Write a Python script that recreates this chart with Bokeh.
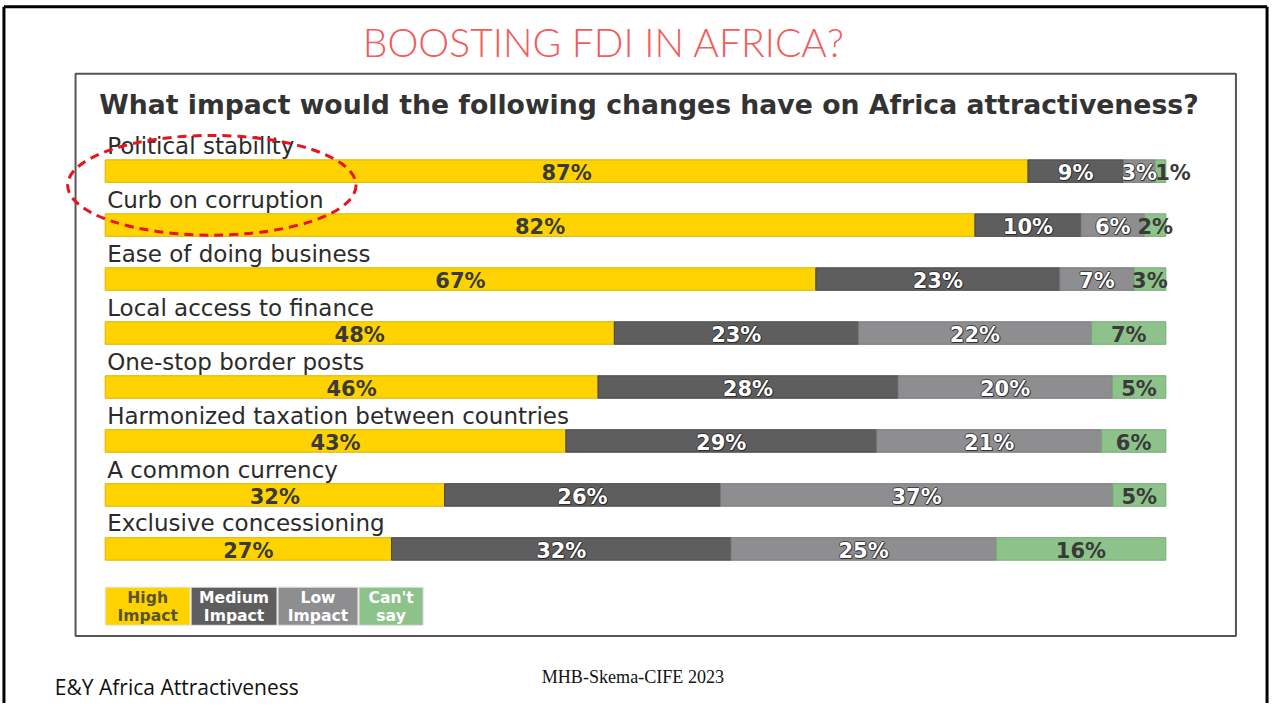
from bokeh.plotting import figure
from bokeh.models import Range1d
from bokeh.core.properties import value
from bokeh.embed import file_html
from bokeh.resources import INLINE

# ---------------- data ----------------
categories = [
    "Political stability",
    "Curb on corruption",
    "Ease of doing business",
    "Local access to finance",
    "One-stop border posts",
    "Harmonized taxation between countries",
    "A common currency",
    "Exclusive concessioning",
]
high_impact = [87, 82, 67, 48, 46, 43, 32, 27]
medium_impact = [9, 10, 23, 23, 28, 29, 26, 32]
low_impact = [3, 6, 7, 22, 20, 21, 37, 25]
cant_say = [1, 2, 3, 7, 5, 6, 5, 16]
series_names = ["High Impact", "Medium Impact", "Low Impact", "Can't say"]
legend_line1 = ["High", "Medium", "Low", "Can't"]
legend_line2 = ["Impact", "Impact", "Impact", "say"]
slide_title = "BOOSTING FDI IN AFRICA?"
chart_title = "What impact would the following changes have on Africa attractiveness?"
footer_left = "E&Y Africa Attractiveness"
footer_center = "MHB-Skema-CIFE 2023"

# ---------------- style / layout ----------------
colors = ["#FFD300", "#5E5E5E", "#8E8E91", "#8DC38B"]
edge_colors = ["#D9B400", "#474747", "#77777a", "#74a972"]
label_colors = ["#3a3a3a", "white", "white", "#3a3a3a"]
FONT = value("DejaVu Sans")

W, H = 1271, 703
REF_W, REF_H = 1287, 719           # layout designed in reference pixels
SX, SY = W / REF_W, H / REF_H
X0, PXPCT = 106.0, 10.74            # ref px of 0 %, ref px per percent
Y0, PXROW = 174.5, 55.2             # ref px of row 0 centre, ref px per row


def fx(px):
    return (px - X0) / PXPCT


def fy(py):
    return (py - Y0) / PXROW


def fs(px):
    return f"{px * SY:.1f}px"


p = figure(
    width=W, height=H,
    x_range=Range1d(fx(0), fx(REF_W)),
    y_range=Range1d(fy(REF_H), fy(0)),
    x_axis_type=None, y_axis_type=None,
    output_backend="svg", toolbar_location=None,
    min_border=0,
)
p.grid.visible = False
p.outline_line_color = None
p.background_fill_color = "white"
p.border_fill_color = "white"

# slide frame (top, left, right)
p.segment(x0=[fx(3.5), fx(3.5), fx(1282.5)],
          y0=[fy(6.5), fy(6.5), fy(6.5)],
          x1=[fx(1282.5), fx(3.5), fx(1282.5)],
          y1=[fy(6.5), fy(REF_H + 5), fy(REF_H + 5)],
          line_color="black", line_width=3)

# inner chart box
p.quad(left=[fx(76)], right=[fx(1251)], top=[fy(75)], bottom=[fy(650)],
       fill_color=None, line_color="#555555", line_width=2)

# slide title
p.text(x=[fx(611)], y=[fy(42)], text=[slide_title], text_font=value("Lato Light"),
       text_font_size=fs(40), text_color="#F25C5C", text_align="center",
       text_baseline="middle")

# chart title
p.text(x=[fx(100)], y=[fy(106)], text=[chart_title], text_font=FONT,
       text_font_style="bold", text_font_size=fs(27.3), text_color="#333333",
       text_align="left", text_baseline="middle")

# ---------------- bars ----------------
rows = list(range(len(categories)))
series = [high_impact, medium_impact, low_impact, cant_say]
totals = [sum(s[i] for s in series) for i in rows]
cum = [0.0] * len(rows)
BAR_H = 23 / PXROW

lab_x, lab_y, lab_t, lab_c, lab_a, lab_w = [], [], [], [], [], []
for k, s in enumerate(series):
    left = [cum[i] for i in rows]
    right = [cum[i] + s[i] * 100.0 / totals[i] for i in rows]
    p.hbar(y=rows, left=left, right=right, height=BAR_H,
           fill_color=colors[k], line_color=edge_colors[k], line_width=1)
    for i in rows:
        if s[i] <= 1:
            lab_x.append(left[i])
            lab_a.append("left")
        else:
            lab_x.append((left[i] + right[i]) / 2)
            lab_a.append("center")
        lab_y.append(rows[i] + 0.04)
        lab_t.append(f"{s[i]}%")
        lab_c.append("#3a3a3a" if s[i] <= 1 else label_colors[k])
        lab_w.append(label_colors[k] == "white" and s[i] > 1)
    cum = right

# category labels
p.text(x=[fx(108)] * len(rows), y=[r - 26 / PXROW for r in rows],
       text=categories, text_font=FONT, text_font_size=fs(23.5),
       text_color="#2b2b2b", text_align="left", text_baseline="middle")

# shadows for white labels
wx = [x for x, w in zip(lab_x, lab_w) if w]
wy = [y for y, w in zip(lab_y, lab_w) if w]
wt = [t for t, w in zip(lab_t, lab_w) if w]
for dx, dy in [(-1, 0), (1, 0), (0, -1), (0, 1), (1, 1)]:
    p.text(x=wx, y=wy, text=wt, text_font=FONT, text_font_style="bold",
           text_font_size=fs(21.5), text_color="#2a2a2a", text_alpha=0.75,
           text_align="center", text_baseline="middle", x_offset=dx, y_offset=dy)
p.text(x=lab_x, y=lab_y, text=lab_t, text_font=FONT, text_font_style="bold",
       text_font_size=fs(21.5), text_color=lab_c, text_align=lab_a,
       text_baseline="middle")

# ---------------- legend ----------------
leg_left = [106, 193, 281, 363]
leg_right = [192, 280, 362, 428]
leg_text_col = ["#5a5530", "white", "white", "white"]
p.quad(left=[fx(v) for v in leg_left], right=[fx(v) for v in leg_right],
       top=[fy(600)] * 4, bottom=[fy(639)] * 4, fill_color=colors,
       line_color=["#e5e5e5"] * 4, line_width=1)
lcx = [fx((a + b) / 2) for a, b in zip(leg_left, leg_right)]
for txt, py in [(legend_line1, 611), (legend_line2, 629)]:
    p.text(x=lcx, y=[fy(py)] * 4, text=txt, text_font=FONT,
           text_font_style="bold", text_font_size=fs(16),
           text_color=leg_text_col, text_align="center", text_baseline="middle")

# ---------------- highlight ellipse ----------------
p.ellipse(x=[fx(214)], y=[fy(189)], width=[292 * SX], height=[102 * SY],
          width_units="screen", height_units="screen", fill_color=None,
          line_color="#E8141B", line_width=3, line_dash="9 6")

# ---------------- footers ----------------
p.text(x=[fx(55)], y=[fy(702)], text=[footer_left], text_font=value("Open Sans"),
       text_font_size=fs(21.5), text_color="#111111", text_align="left",
       text_baseline="middle")
p.text(x=[fx(548)], y=[fy(692)], text=[footer_center],
       text_font=value("Liberation Serif"), text_font_size=fs(18.5),
       text_color="#111111", text_align="left", text_baseline="middle")

open("out.html", "w").write(file_html(p, INLINE))
